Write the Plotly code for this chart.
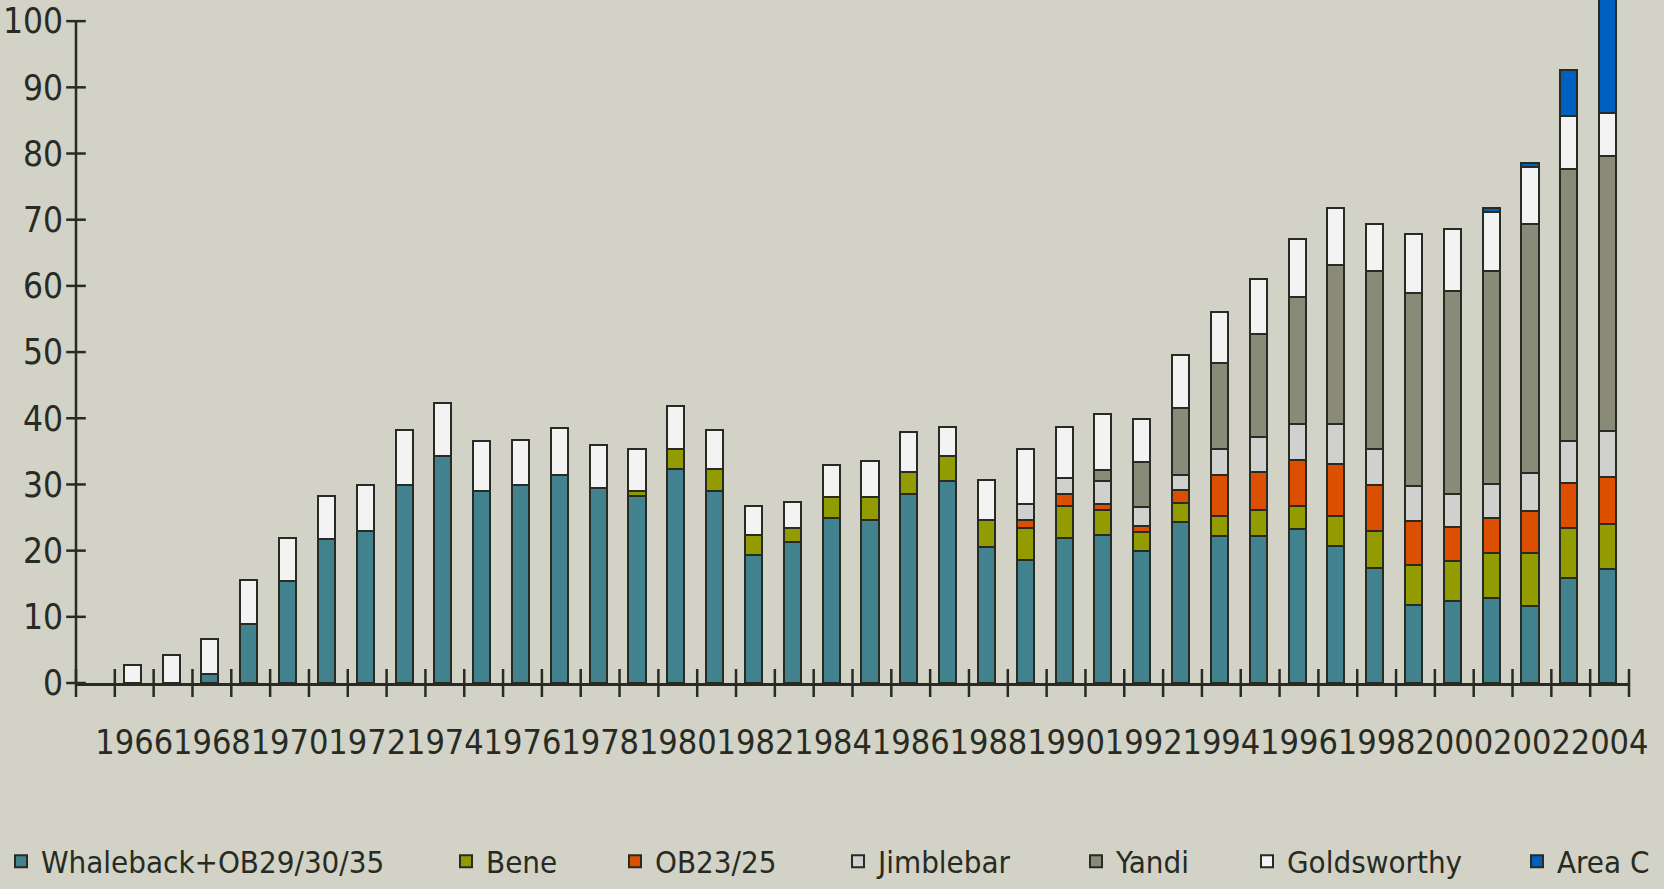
import plotly.graph_objects as go

years = list(range(1965, 2005))
tick_labels = [str(y) for y in years if y % 2 == 0]

whaleback = [0, 0, 0, 1.4, 8.9, 15.4, 21.8, 23.0, 29.9, 34.3, 29.0, 29.9, 31.5, 29.5, 28.3, 32.3, 29.0, 19.4, 21.3, 25.0,
             24.6, 28.6, 30.5, 20.6, 18.6, 21.9, 22.3, 19.9, 24.3, 22.2, 22.2, 23.2, 20.7, 17.4, 11.8, 12.4, 12.9, 11.7, 15.8, 17.3]
bene = [0] * 14 + [0.7, 3.0, 3.3, 2.9, 2.1, 3.1, 3.5, 3.3, 3.8, 4.0, 4.8, 4.8, 3.9, 2.9, 2.9, 3.0, 4.0, 3.5, 4.5, 5.5,
                   6.0, 6.1, 6.7, 7.9, 7.6, 6.7]
ob23_25 = [0] * 24 + [1.2, 1.9, 0.9, 0.9, 1.9, 6.2, 5.7, 7.0, 7.9, 7.0, 6.7, 5.0, 5.3, 6.4, 6.8, 7.1]
jimblebar = [0] * 24 + [2.4, 2.4, 3.4, 2.9, 2.4, 4.0, 5.2, 5.5, 6.1, 5.5, 5.3, 5.0, 5.2, 5.7, 6.4, 7.0]
yandi = [0] * 26 + [1.7, 6.8, 10.1, 12.9, 15.6, 19.1, 23.9, 26.8, 29.2, 30.8, 32.1, 37.7, 41.0, 41.6]
goldsworthy = [0, 2.7, 4.3, 5.2, 6.6, 6.5, 6.5, 6.9, 8.3, 8.0, 7.6, 6.8, 7.1, 6.4, 6.4, 6.6, 6.0, 4.4, 4.0, 4.9,
               5.4, 6.0, 4.4, 6.0, 8.4, 7.7, 8.4, 6.5, 8.0, 7.8, 8.4, 8.8, 8.6, 7.2, 8.8, 9.3, 9.0, 8.5, 8.0, 6.4]
area_c = [0] * 36 + [0.5, 0.6, 7.0, 24.0]

series = [
    ("Whaleback+OB29/30/35", whaleback, "#42828f"),
    ("Bene", bene, "#929c00"),
    ("OB23/25", ob23_25, "#dc4f00"),
    ("Jimblebar", jimblebar, "#d0d0cf"),
    ("Yandi", yandi, "#8a8a78"),
    ("Goldsworthy", goldsworthy, "#f3f3f3"),
    ("Area C", area_c, "#0060c0"),
]
y_ticks = list(range(0, 101, 10))

DARK = "#272b23"
BG = "#d2d2c6"
FONT = "DejaVu Sans Condensed, Liberation Sans Narrow, sans-serif"

W, H = 1664, 889
ML, MR, MT, MB = 76, 35, 0, 201
plot_w = W - ML - MR
plot_h = H - MT - MB
px_per_unit = 6.667
y_top = plot_h / px_per_unit

# legend text starting x positions (px) in the reference
legend_text_x = [45, 490, 659, 882, 1120, 1291, 1561]
legend_y_px = 868

fig = go.Figure()
for i, (name, vals, col) in enumerate(series):
    lg = "legend" if i == 0 else f"legend{i+1}"
    fig.add_trace(go.Bar(
        x=years, y=[v if v else None for v in vals], name=name,
        marker=dict(color=col, line=dict(color=DARK, width=2)),
        width=0.44, offset=-0.27, legend=lg,
    ))

boundaries = [y - 0.5 for y in years] + [years[-1] + 0.5]
fig.add_trace(go.Scatter(
    x=boundaries, y=[0] * len(boundaries), mode="markers", showlegend=False, hoverinfo="skip",
    marker=dict(symbol="line-ns-open", size=20, color=DARK, line=dict(color=DARK, width=2.5)),
    cliponaxis=False))
fig.add_trace(go.Scatter(
    x=[boundaries[0]] * len(y_ticks), y=y_ticks, mode="markers", showlegend=False, hoverinfo="skip",
    marker=dict(symbol="line-ew-open", size=14, color=DARK, line=dict(color=DARK, width=2.5)),
    cliponaxis=False))

fig.add_shape(type="line", xref="paper", yref="y", x0=0, x1=0, y0=0, y1=100,
              line=dict(color=DARK, width=2.5))

legends = {}
for i, tx in enumerate(legend_text_x):
    key = "legend" if i == 0 else f"legend{i+1}"
    legends[key] = dict(
        x=(tx - 44 - ML) / plot_w, xanchor="left",
        y=(plot_h - (legend_y_px - MT)) / plot_h, yanchor="middle",
        orientation="h", bgcolor="rgba(0,0,0,0)",
        font=dict(family=FONT, size=31, color=DARK),
    )

fig.update_layout(
    width=W, height=H,
    margin=dict(l=ML, r=MR, t=MT, b=MB),
    paper_bgcolor=BG, plot_bgcolor=BG,
    barmode="stack", bargap=0,
    font=dict(family=FONT, size=36, color=DARK),
    **legends,
)
fig.update_xaxes(
    range=[years[0] - 0.5, years[-1] + 0.5],
    tickvals=[y for y in years if y % 2 == 0], ticktext=tick_labels,
    ticks="", showgrid=False, zeroline=False, tickangle=0,
    showline=True, linecolor=DARK, linewidth=2.5,
    tickfont=dict(family=FONT, size=34, color=DARK),
    ticklabelstandoff=27,
)
fig.update_yaxes(
    range=[0, y_top], tickvals=y_ticks, ticks="", showgrid=False, zeroline=False, showline=False,
    tickfont=dict(family=FONT, size=35, color=DARK), ticklabelstandoff=12,
    ticklabeloverflow="allow",
)

fig.write_html(
    "out.html",
    config={"displayModeBar": False},
    post_script="document.body.style.margin='0';document.body.style.background='" + BG + "';",
)
